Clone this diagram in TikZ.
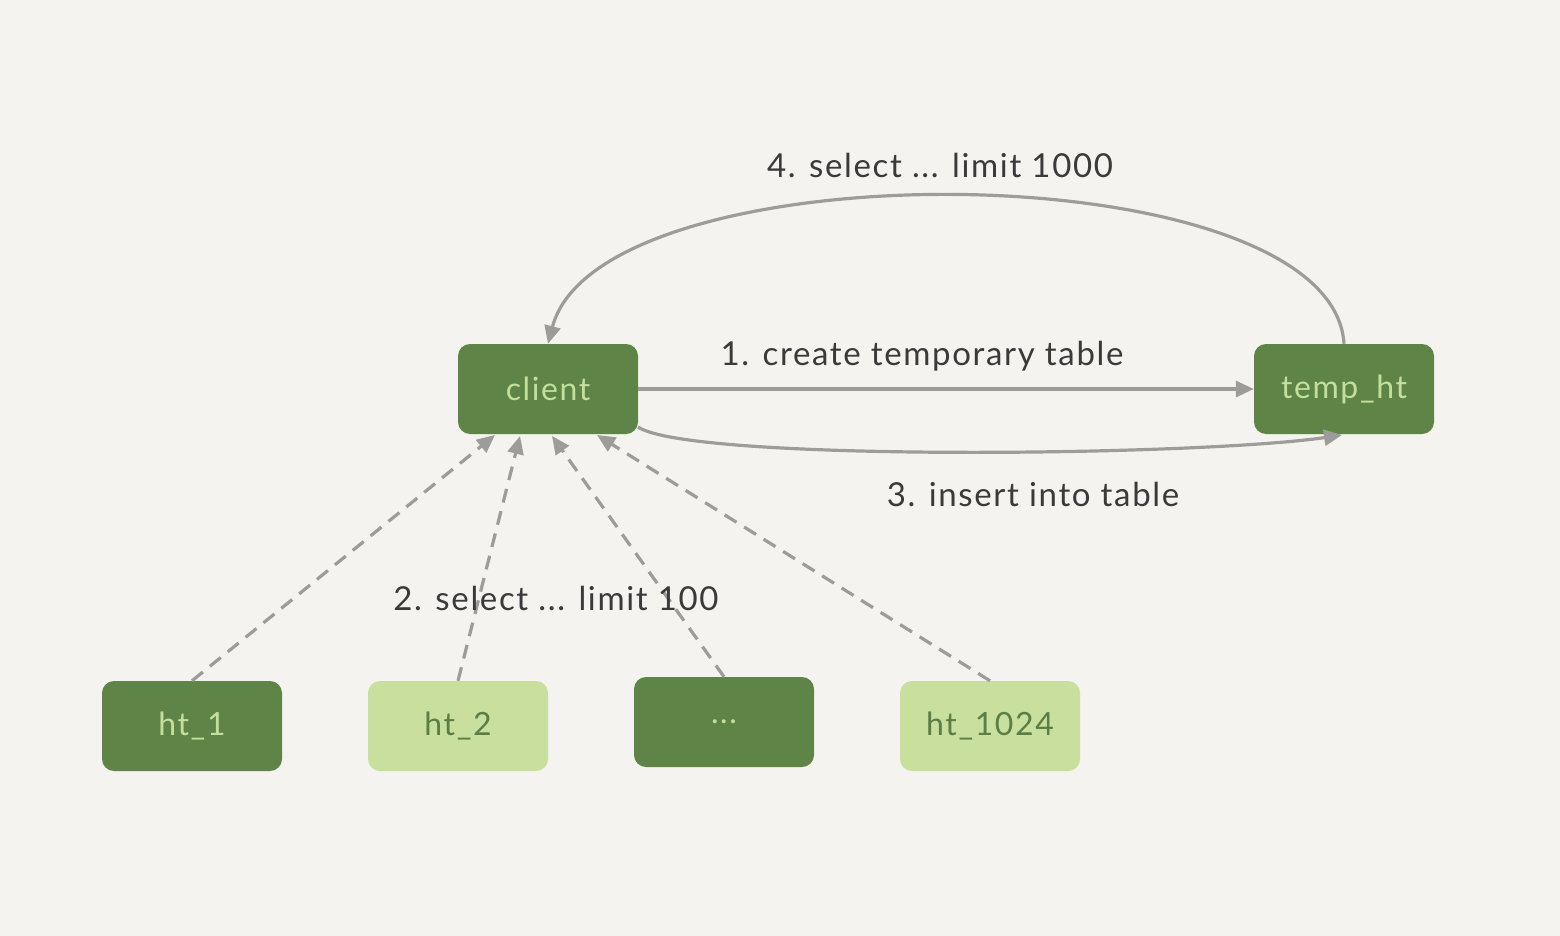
\documentclass[tikz,border=0pt]{standalone}
\usepackage{fontspec}
\setmainfont{Lato}[LetterSpace=5]
\usetikzlibrary{arrows.meta}
\definecolor{bgpaper}{HTML}{F4F3EF}
\definecolor{darkleaf}{HTML}{5E8447}
\definecolor{paleleaf}{HTML}{C9DF9E}
\definecolor{paletext}{HTML}{C4DE9C}
\definecolor{darktext}{HTML}{5A7E45}
\definecolor{linkgray}{HTML}{9C9C9A}
\definecolor{labelink}{HTML}{3A3A3A}
\tikzset{
  box/.style={rounded corners=12pt, minimum width=180pt, minimum height=90pt,
    inner sep=0pt, font=\fontsize{32}{36}\selectfont},
  darkbox/.style={box, fill=darkleaf, text=paletext},
  lightbox/.style={box, fill=paleleaf, text=darktext},
  link/.style={draw=linkgray, line width=3.2pt,
    -{Triangle[length=18pt,width=16pt]}},
  dashlink/.style={link, dash pattern=on 14pt off 9pt},
  steplabel/.style={text=labelink, font=\fontsize{33}{36}\selectfont, inner sep=0pt}
}
\begin{document}
\begin{tikzpicture}[x=1pt,y=-1pt]
  \fill[bgpaper] (0,0) rectangle (1560,936);
  \useasboundingbox (0,0) rectangle (1560,936);

  % main nodes
  \node[darkbox] (client) at (548,389) {client};
  \node[darkbox] (temp) at (1344,389) {temp\_ht};

  % shard tables
  \node[darkbox]  (ht1)    at (192,726) {ht\_1};
  \node[lightbox] (ht2)    at (458,726) {ht\_2};
  \node[darkbox]  (htdots) at (724,722) {...};
  \node[lightbox] (ht1024) at (990,726) {ht\_1024};

  % anchor points on the client box
  \coordinate (c1) at (495,435);
  \coordinate (c2) at (520,436);
  \coordinate (c3) at (552,436);
  \coordinate (c4) at (597,435);

  % step 2: fetch from each shard
  \draw[dashlink] (ht1.north) -- (c1);
  \draw[dashlink] (ht2.north) -- (c2);
  \draw[dashlink] (htdots.north) -- (c3);
  \draw[dashlink] (ht1024.north) -- (c4);

  % step 1: create temporary table
  \draw[link] (client.east) -- (temp.west);

  % step 3: insert into table
  \coordinate (c5) at (638,427);
  \coordinate (t5) at (1342,435);
  \draw[link] (c5) .. controls (690,462) and (1200,456) .. (t5);

  % step 4: final select
  \draw[link] (temp.north) .. controls (1332,150) and (600,145) .. (client.north);

  % labels
  \node[steplabel] (l4) at (940,165) {4. select ... limit 1000};
  \node[steplabel] (l1) at (922,356) {1. create temporary table};
  \node[steplabel] (l3) at (1033,494) {3. insert into table};
  \node[steplabel] (l2) at (556,598) {2. select ... limit 100};
\end{tikzpicture}
\end{document}
